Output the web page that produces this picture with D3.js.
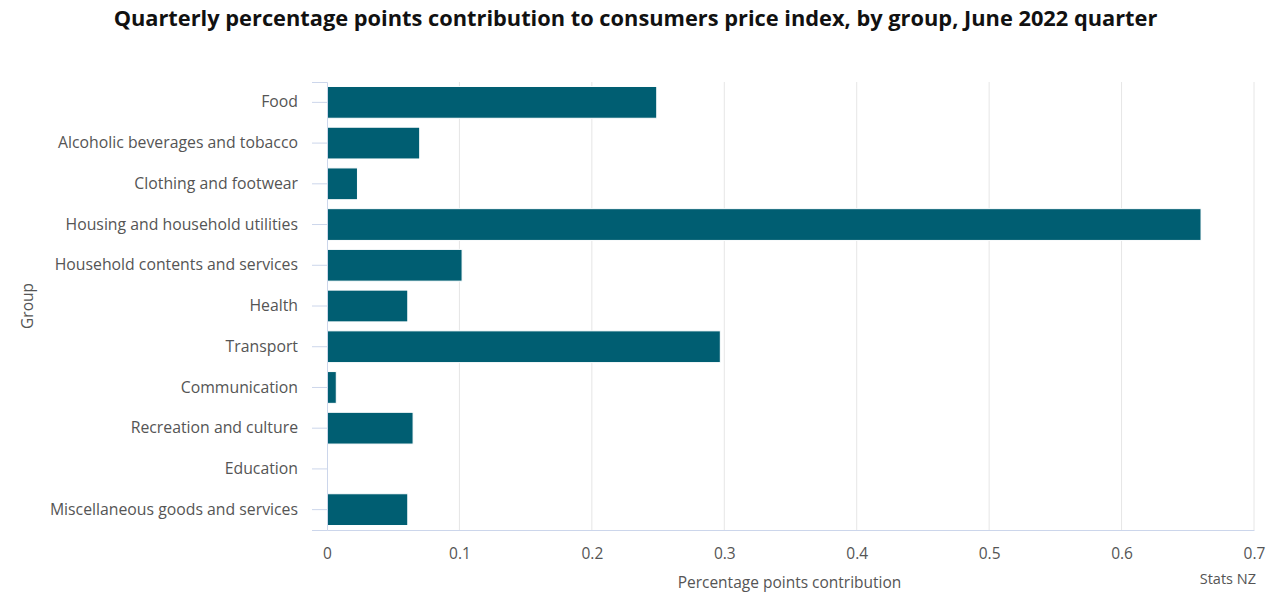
<!DOCTYPE html>
<html>
<head>
<meta charset="utf-8">
<script src="https://cdn.jsdelivr.net/npm/d3@7"></script>
<style>
  body { margin: 0; background: #fff; }
  svg text { font-family: "Open Sans", Lato, sans-serif; }
</style>
</head>
<body>
<div id="chart"></div>
<script>
const groups = [
  'Food',
  'Alcoholic beverages and tobacco',
  'Clothing and footwear',
  'Housing and household utilities',
  'Household contents and services',
  'Health',
  'Transport',
  'Communication',
  'Recreation and culture',
  'Education',
  'Miscellaneous goods and services'
];
const contributions = [0.249, 0.070, 0.023, 0.660, 0.102, 0.061, 0.297, 0.007, 0.065, 0, 0.061];
const xTicks = [0, 0.1, 0.2, 0.3, 0.4, 0.5, 0.6, 0.7];

const width = 1269, height = 600;
const margin = { top: 82, right: 15, bottom: 70, left: 327 };

const svg = d3.select('#chart').append('svg')
  .attr('width', width)
  .attr('height', height);

const x = d3.scaleLinear()
  .domain([0, 0.7])
  .range([margin.left, width - margin.right]);

const y = d3.scaleBand()
  .domain(groups)
  .range([margin.top, height - margin.bottom])
  .paddingInner(0.22)
  .paddingOuter(0.11);

// title
svg.append('text')
  .attr('x', width / 2 + 1)
  .attr('y', 26)
  .attr('text-anchor', 'middle')
  .attr('font-size', 21.8)
  .attr('font-weight', 'bold')
  .attr('fill', '#111')
  .text('Quarterly percentage points contribution to consumers price index, by group, June 2022 quarter');

// grid
svg.append('g')
  .selectAll('line')
  .data(xTicks.slice(1))
  .join('line')
  .attr('x1', d => x(d)).attr('x2', d => x(d))
  .attr('y1', margin.top).attr('y2', height - margin.bottom)
  .attr('stroke', '#e6e6e6')
  .attr('stroke-width', 1);

// bars
svg.append('g')
  .selectAll('rect')
  .data(groups.map((g, i) => ({ name: g, value: contributions[i] })))
  .join('rect')
  .attr('x', x(0))
  .attr('y', d => y(d.name))
  .attr('width', d => x(d.value) - x(0))
  .attr('height', y.bandwidth())
  .attr('fill', '#005e72')
  .attr('stroke', d => d.value ? '#fff' : 'none')
  .attr('stroke-width', 1);

// y axis
const yAxis = svg.append('g')
  .attr('transform', `translate(${x(0)},0)`)
  .call(d3.axisLeft(y).tickSize(15).tickPadding(14));
yAxis.select('.domain').attr('stroke', '#ccd6eb');
yAxis.selectAll('.tick line').attr('stroke', '#ccd6eb');
yAxis.selectAll('.tick text')
  .attr('font-size', 15.8)
  .attr('fill', '#555');

// x axis
const xAxis = svg.append('g')
  .attr('transform', `translate(0,${height - margin.bottom})`)
  .call(d3.axisBottom(x).tickValues(xTicks).tickFormat(d3.format('~g')).tickSize(0).tickPadding(18));
xAxis.select('.domain').attr('stroke', '#ccd6eb');
xAxis.selectAll('.tick text')
  .attr('font-size', 15.5)
  .attr('fill', '#555');

// axis titles
svg.append('text')
  .attr('x', (x(0) + x(0.7)) / 2 - 1)
  .attr('y', 588)
  .attr('text-anchor', 'middle')
  .attr('font-size', 15.5)
  .attr('fill', '#555')
  .text('Percentage points contribution');

svg.append('text')
  .attr('transform', `translate(33,${(margin.top + height - margin.bottom) / 2}) rotate(-90)`)
  .attr('text-anchor', 'middle')
  .attr('font-size', 15.5)
  .attr('fill', '#555')
  .text('Group');

svg.append('text')
  .attr('x', width - 13)
  .attr('y', 584)
  .attr('text-anchor', 'end')
  .attr('font-size', 14.5)
  .attr('fill', '#555')
  .text('Stats NZ');
</script>
</body>
</html>
